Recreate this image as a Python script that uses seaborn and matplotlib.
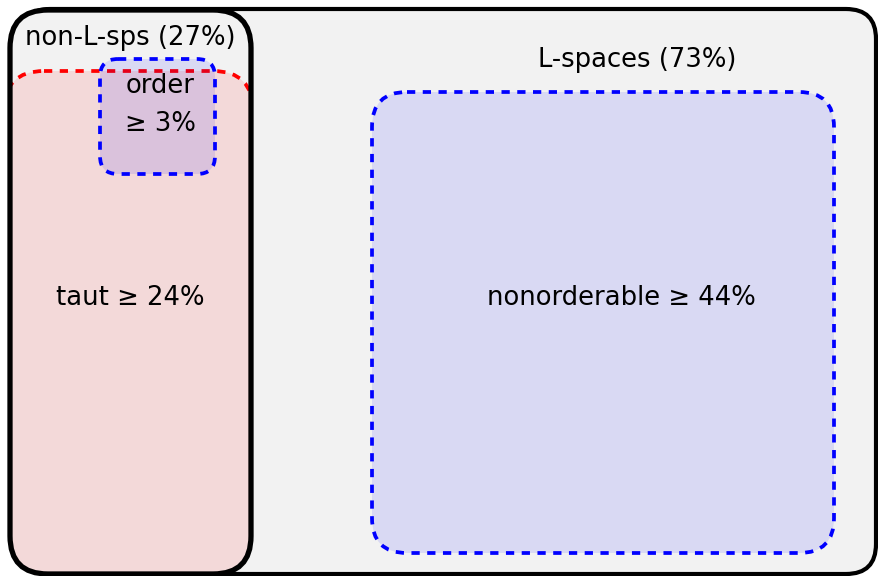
import matplotlib
matplotlib.use("Agg")
import matplotlib.pyplot as plt
import seaborn as sns
from matplotlib.patches import FancyBboxPatch

# share of manifolds in each set (percent)
groups = ["non-L-sps", "L-spaces"]
group_pct = [27, 73]
subsets = ["taut", "order", "nonorderable"]
subset_pct = [24, 3, 44]

sns.set_theme(style="white")
plt.rcParams['font.family'] = ['DejaVu Sans']
plt.rcParams['text.color'] = 'black'

fig = plt.figure(figsize=(8.79, 5.76), dpi=100)
ax = fig.add_axes([0, 0, 1, 1])
ax.set_xlim(0, 879)
ax.set_ylim(576, 0)
ax.axis("off")


def rbox(x0, y0, x1, y1, r, **kw):
    p = FancyBboxPatch((x0 + r, y0 + r), x1 - x0 - 2 * r, y1 - y0 - 2 * r,
                       boxstyle="round,pad=%g" % r, **kw)
    ax.add_patch(p)
    return p


dash = (0, (2.2, 2.0))
grey = "#f2f2f2"

# outer box (all manifolds); its left side sits under the non-L box
rbox(20, 9, 876, 574, 30, facecolor=grey, edgecolor="black", lw=3, zorder=1)

# non L-space box, fill below the sets and edge on top
nonl = rbox(10, 10, 251, 574, 38, facecolor=grey, edgecolor="none", zorder=1.5)
rbox(10, 10, 251, 574, 38, facecolor="none", edgecolor="black", lw=3.8, zorder=5)

taut = rbox(4, 71, 253, 640, 40, facecolor=(1, 0, 0, 0.1), edgecolor="none", zorder=2)
taut.set_clip_path(nonl)
taut_edge = rbox(4, 71, 253, 640, 40, facecolor="none", edgecolor="red",
                 lw=2.7, linestyle=dash, zorder=3)
taut_edge.set_clip_path(nonl)

rbox(100, 59, 215, 174, 18, facecolor=(0, 0, 1, 0.1), edgecolor="blue",
     lw=2.7, linestyle=dash, zorder=4)
rbox(372, 92, 834, 553, 35, facecolor=(0, 0, 1, 0.1), edgecolor="blue",
     lw=2.7, linestyle=dash, zorder=4)

fs = 18.6
ax.text(130, 38, "%s (%d%%)" % (groups[0], group_pct[0]), ha="center", va="center", fontsize=fs, zorder=6)
ax.text(637, 60, "%s (%d%%)" % (groups[1], group_pct[1]), ha="center", va="center", fontsize=fs, zorder=6)
ax.text(160, 86, subsets[1], ha="center", va="center", fontsize=fs, zorder=6)
ax.text(160, 124, "≥ %d%%" % subset_pct[1], ha="center", va="center", fontsize=fs, zorder=6)
ax.text(130, 298, "%s ≥ %d%%" % (subsets[0], subset_pct[0]), ha="center", va="center", fontsize=fs, zorder=6)
ax.text(621, 298, "%s ≥ %d%%" % (subsets[2], subset_pct[2]), ha="center", va="center", fontsize=fs, zorder=6)

fig.savefig("out.png", dpi=100)
